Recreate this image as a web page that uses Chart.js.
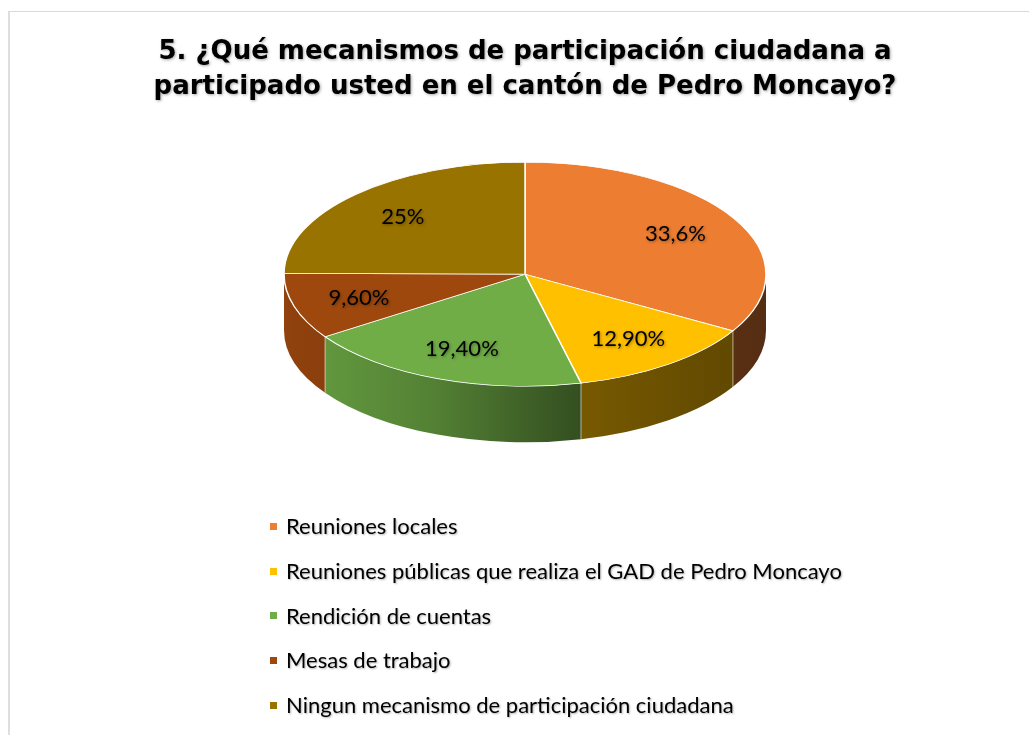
<!DOCTYPE html>
<html>
<head>
<meta charset="utf-8">
<script src="https://cdn.jsdelivr.net/npm/chart.js@4.4.1/dist/chart.umd.min.js"></script>
<style>
  html, body { margin: 0; padding: 0; background: #fff; overflow: hidden; }
  #frame { position: absolute; left: 8px; top: 11px; width: 1100px; height: 800px;
           border-top: 1px solid #d9d9d9; border-left: 2px solid #dedede; }
  #chart { position: absolute; left: 0; top: 0; }
  #legend { position: absolute; left: 270px; top: 504px; margin: 0; padding: 0; list-style: none;
            font-family: Lato, sans-serif; font-size: 22px; color: #000; }
  #legend li { height: 44.8px; line-height: 44.8px; display: flex; align-items: center;
               text-shadow: 1px 1px 2px rgba(0,0,0,0.3); white-space: nowrap; }
  #legend .box { display: inline-block; width: 7px; height: 7px; margin-right: 9px; }
</style>
</head>
<body>
<div id="frame"></div>
<canvas id="chart" width="1029" height="735"></canvas>
<ul id="legend"></ul>
<script>
const titleLines = ['5. ¿Qué mecanismos de participación ciudadana a', 'participado usted en el cantón de Pedro Moncayo?'];
const categories = [
  'Reuniones locales',
  'Reuniones públicas que realiza el GAD de Pedro Moncayo',
  'Rendición de cuentas',
  'Mesas de trabajo',
  'Ningun mecanismo de participación ciudadana'
];
const values = [33.6, 12.9, 19.4, 9.6, 25];
const valueLabels = ['33,6%', '12,90%', '19,40%', '9,60%', '25%'];
const colors = ['#ED7D31', '#FFC000', '#70AD47', '#9E480E', '#997300'];

const tilt = 0.465;      // vertical squash of the pie top
const depth = 56;        // height of the side wall
const labelRadius = 0.72;

function shade(hex, f) {
  const n = parseInt(hex.slice(1), 16);
  const r = Math.round(((n >> 16) & 255) * f);
  const g = Math.round(((n >> 8) & 255) * f);
  const b = Math.round((n & 255) * f);
  return 'rgb(' + r + ',' + g + ',' + b + ')';
}

function setShadow(ctx) {
  ctx.shadowColor = 'rgba(0,0,0,0.35)';
  ctx.shadowBlur = 3;
  ctx.shadowOffsetX = 1;
  ctx.shadowOffsetY = 1;
}

const pie3d = {
  id: 'pie3d',
  beforeDraw(chart) {
    chart.ctx.save();
    setShadow(chart.ctx);
  },
  beforeDatasetsDraw(chart) {
    const ctx = chart.ctx;
    ctx.restore();
    const arcs = chart.getDatasetMeta(0).data;
    const x = arcs[0].x, y = arcs[0].y, r = arcs[0].outerRadius;
    const ry = r * tilt;

    // side walls of the front half
    arcs.forEach((arc, i) => {
      const a1 = Math.max(arc.startAngle, 0);
      const a2 = Math.min(arc.endAngle, Math.PI);
      if (a2 <= a1) return;
      const g = ctx.createLinearGradient(x - r, 0, x + r, 0);
      g.addColorStop(0, shade(colors[i], 0.92));
      g.addColorStop(0.3, shade(colors[i], 0.75));
      g.addColorStop(0.6, shade(colors[i], 0.47));
      g.addColorStop(1, shade(colors[i], 0.36));
      ctx.beginPath();
      ctx.ellipse(x, y, r, ry, 0, a1, a2);
      ctx.ellipse(x, y + depth, r, ry, 0, a2, a1, true);
      ctx.closePath();
      ctx.fillStyle = g;
      ctx.fill();
    });

    // light edges where slices meet on the wall
    ctx.strokeStyle = 'rgba(255,255,255,0.55)';
    ctx.lineWidth = 1;
    arcs.forEach((arc) => {
      const a = arc.endAngle;
      if (a > 0 && a < Math.PI) {
        const px = x + r * Math.cos(a), py = y + ry * Math.sin(a);
        ctx.beginPath();
        ctx.moveTo(px, py);
        ctx.lineTo(px, py + depth);
        ctx.stroke();
      }
    });

    ctx.save();
    ctx.translate(0, y);
    ctx.scale(1, tilt);
    ctx.translate(0, -y);
  },
  afterDatasetsDraw(chart) {
    const ctx = chart.ctx;
    ctx.restore();
    const arcs = chart.getDatasetMeta(0).data;
    ctx.save();
    setShadow(ctx);
    ctx.font = '22px Lato';
    ctx.fillStyle = '#000';
    ctx.textAlign = 'center';
    ctx.textBaseline = 'middle';
    arcs.forEach((arc, i) => {
      const mid = (arc.startAngle + arc.endAngle) / 2;
      const rr = arc.outerRadius * labelRadius;
      ctx.fillText(valueLabels[i], arc.x + rr * Math.cos(mid), arc.y + rr * Math.sin(mid) * tilt);
    });
    ctx.restore();
  }
};

new Chart(document.getElementById('chart'), {
  type: 'pie',
  data: {
    labels: categories,
    datasets: [{
      data: values,
      backgroundColor: colors,
      borderColor: '#fff',
      borderWidth: 1.5,
      radius: 241
    }]
  },
  options: {
    responsive: false,
    animation: false,
    events: [],
    layout: { padding: { left: 21, bottom: 302 } },
    plugins: {
      legend: { display: false },
      tooltip: { enabled: false },
      title: {
        display: true,
        text: titleLines,
        color: '#000',
        font: { family: 'DejaVu Sans', weight: 'bold', size: 26, lineHeight: 1.373 },
        padding: { top: 34, bottom: 10 }
      }
    }
  },
  plugins: [pie3d]
});

// legend list
const legend = document.getElementById('legend');
categories.forEach((name, i) => {
  const li = document.createElement('li');
  const box = document.createElement('span');
  box.className = 'box';
  box.style.background = colors[i];
  li.appendChild(box);
  li.appendChild(document.createTextNode(name));
  legend.appendChild(li);
});
</script>
</body>
</html>
